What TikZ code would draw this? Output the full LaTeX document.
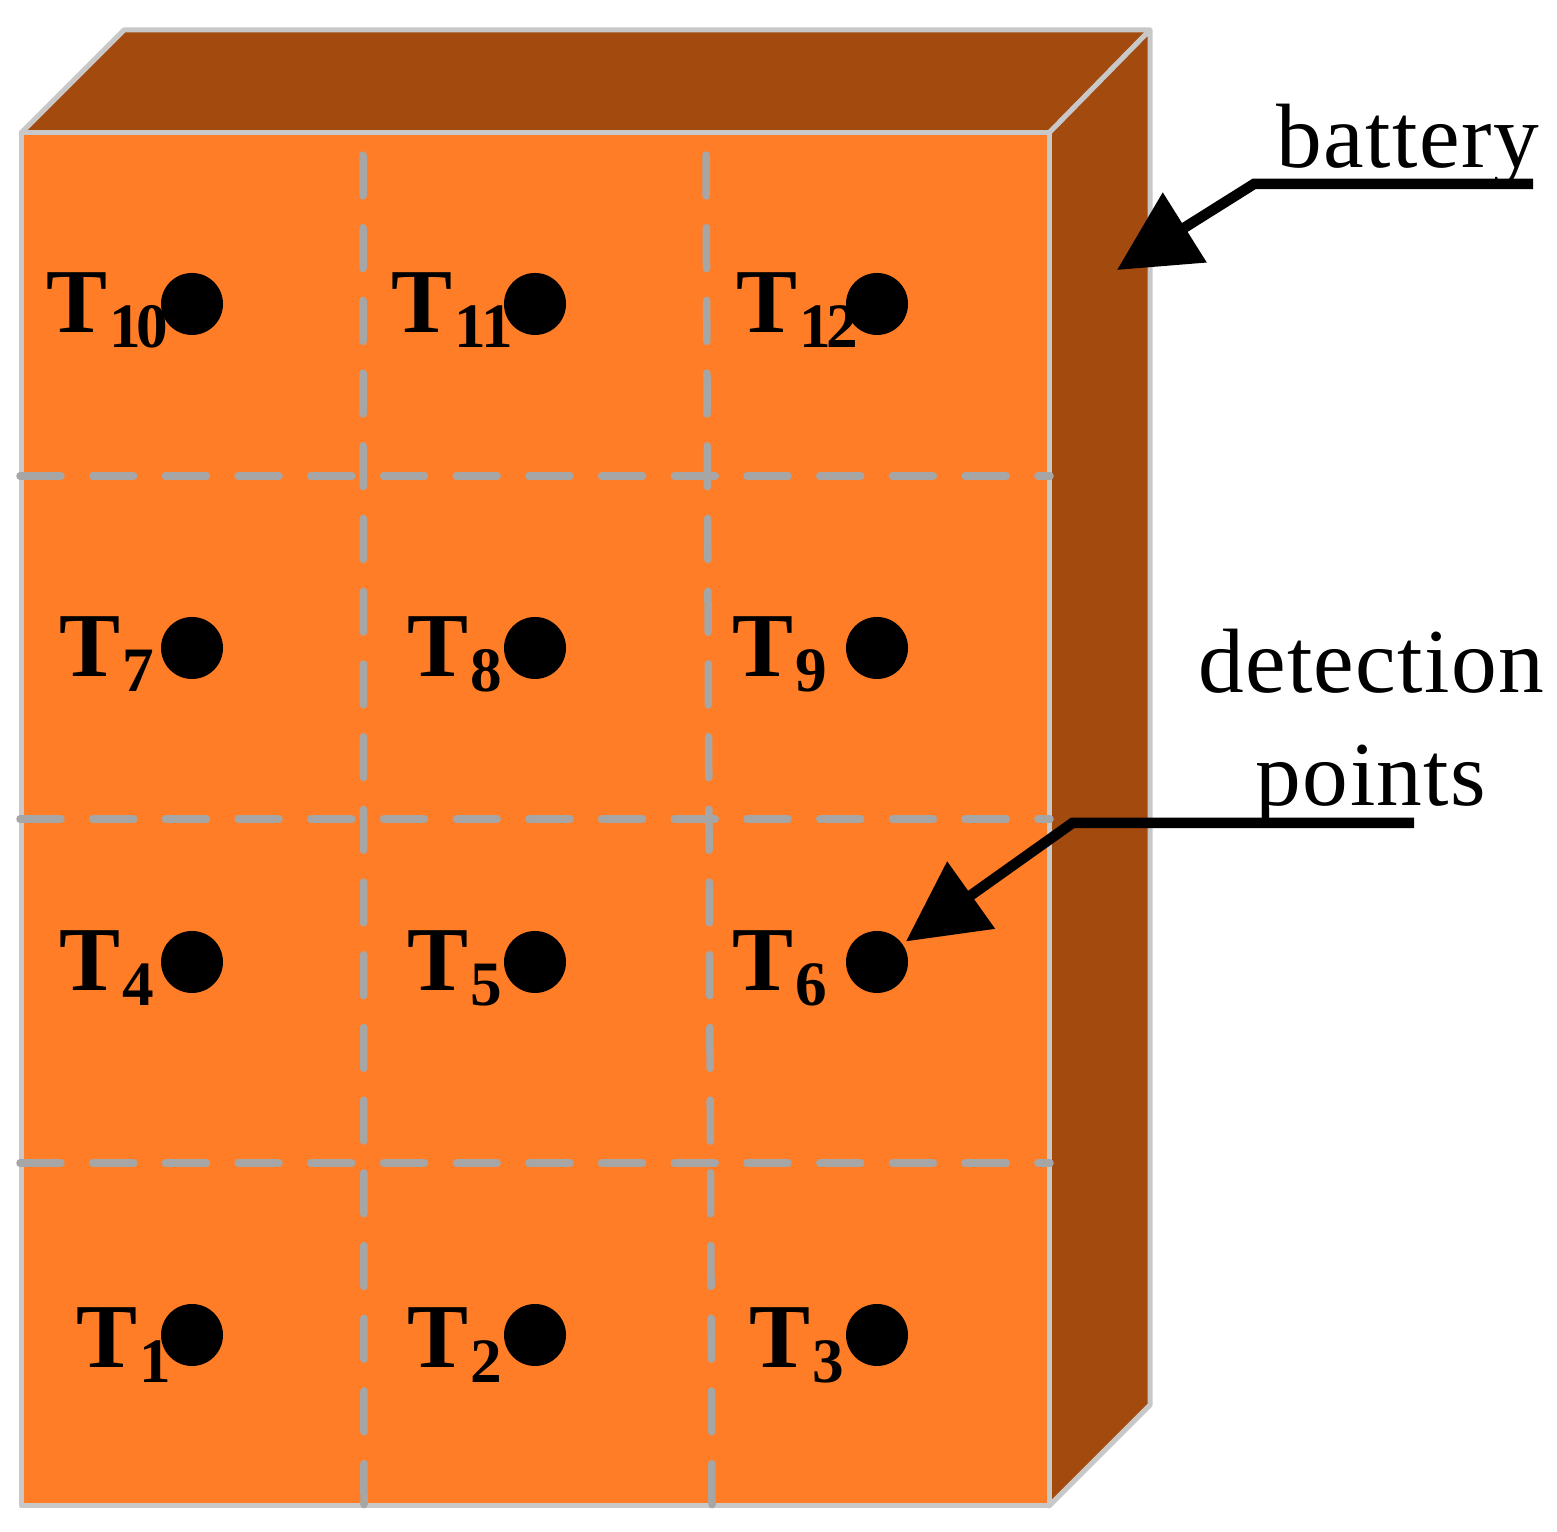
\documentclass[tikz,border=0pt]{standalone}
\usepackage{fontspec}
\setmainfont{Liberation Serif}
\newfontfamily\notefont[LetterSpace=1.5]{Liberation Serif}
\usetikzlibrary{arrows.meta}
\definecolor{frontcol}{HTML}{FF7D26}
\definecolor{sidecol}{HTML}{A34A0F}
\definecolor{edgecol}{HTML}{C8C8C8}
\definecolor{gridcol}{HTML}{A6A6A6}
\newcommand{\tsub}[1]{\kern0.02cm\raisebox{-0.15cm}{\fontsize{18}{18}\selectfont #1}}
\tikzset{
  face/.style={draw=edgecol, line width=0.05cm, line join=round},
  gridline/.style={draw=gridcol, line width=0.075cm, line cap=round, dash pattern=on 0.41cm off 0.317cm},
  dot/.style={circle, fill=black, inner sep=0pt, outer sep=0.045cm, minimum size=0.62cm},
  tlabel/.style={anchor=base west, inner sep=0pt, font=\fontsize{26}{26}\selectfont\bfseries},
  note/.style={inner sep=0pt, font=\fontsize{26}{32.4}\selectfont\notefont},
  leader/.style={line width=0.105cm, line join=miter, -{Triangle[length=0.8cm, width=0.8cm]}}
}

\begin{document}
\begin{tikzpicture}
    \useasboundingbox (0, 0) rectangle (15.57, 15.31);

    % 電池
    \draw[face, fill=sidecol] (0.21, 13.98) -- (1.24, 15.01) -- (11.5, 15.01) -- (10.49, 13.98) -- cycle;
    \draw[face, fill=sidecol] (10.49, 13.98) -- (11.5, 15.01) -- (11.5, 1.26) -- (10.49, 0.25) -- cycle;
    \draw[face, fill=frontcol] (0.21, 0.25) rectangle (10.49, 13.98);

    % 破線
    \draw[gridline] (3.63, 13.76) -- (3.64, 0.26);
    \draw[gridline] (7.06, 13.76) -- (7.12, 0.26);
    \draw[gridline] (0.2, 10.55) -- (10.5, 10.55);
    \draw[gridline] (0.2, 7.12) -- (10.5, 7.12);
    \draw[gridline] (0.2, 3.68) -- (10.5, 3.68);

    % ラベル
    \node[tlabel] (T10) at (0.46, 11.98) {T\tsub{1\kern-0.05cm 0}};
    \node[tlabel] (T11) at (3.91, 11.98) {T\tsub{1\kern-0.05cm 1}};
    \node[tlabel] (T12) at (7.36, 11.98) {T\tsub{1\kern-0.05cm 2}};
    \node[tlabel] (T7) at (0.59, 8.54) {T\tsub{7}};
    \node[tlabel] (T8) at (4.07, 8.54) {T\tsub{8}};
    \node[tlabel] (T9) at (7.32, 8.54) {T\tsub{9}};
    \node[tlabel] (T4) at (0.59, 5.40) {T\tsub{4}};
    \node[tlabel] (T5) at (4.07, 5.40) {T\tsub{5}};
    \node[tlabel] (T6) at (7.32, 5.40) {T\tsub{6}};
    \node[tlabel] (T1) at (0.76, 1.63) {T\tsub{1}};
    \node[tlabel] (T2) at (4.07, 1.63) {T\tsub{2}};
    \node[tlabel] (T3) at (7.49, 1.63) {T\tsub{3}};

    % 測定点
    \node[dot] (D10) at (1.92, 12.27) {};
    \node[dot] (D11) at (5.35, 12.27) {};
    \node[dot] (D12) at (8.77, 12.27) {};
    \node[dot] (D7) at (1.92, 8.83) {};
    \node[dot] (D8) at (5.35, 8.83) {};
    \node[dot] (D9) at (8.77, 8.83) {};
    \node[dot] (D4) at (1.92, 5.69) {};
    \node[dot] (D5) at (5.35, 5.69) {};
    \node[dot] (D6) at (8.77, 5.69) {};
    \node[dot] (D1) at (1.92, 1.96) {};
    \node[dot] (D2) at (5.35, 1.96) {};
    \node[dot] (D3) at (8.77, 1.96) {};

    % 注記
    \node[note, anchor=base west] (battery) at (12.76, 13.63) {battery};
    \node[note, align=center] (detect) at (13.71, 8.04) {detection\\points};

    % 矢印
    \coordinate (batteryend) at (15.33, 13.47);
    \coordinate (batterybend) at (12.54, 13.47);
    \coordinate (batterytip) at (11.17, 12.61);
    \coordinate (detectend) at (14.14, 7.08);
    \coordinate (detectbend) at (10.725, 7.08);
    \draw[leader] (batteryend) -- (batterybend) -- (batterytip);
    \draw[leader] (detectend) -- (detectbend) -- (D6);
  \end{tikzpicture}
\end{document}
